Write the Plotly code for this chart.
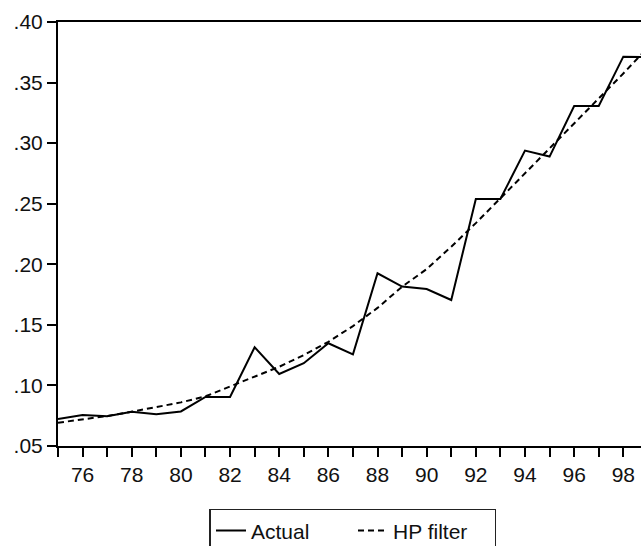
import plotly.graph_objects as go

years = list(range(1975, 2000))
actual = [0.0723, 0.0756, 0.0745, 0.0783, 0.0762, 0.0785, 0.0905, 0.0905, 0.1315, 0.1094,
          0.1183, 0.1348, 0.1257, 0.1926, 0.1816, 0.1796, 0.1705, 0.2539, 0.2539, 0.2938,
          0.2889, 0.3307, 0.3307, 0.3714, 0.3710]
hp_filter = [0.0692, 0.0717, 0.0748, 0.0783, 0.0820, 0.0860, 0.0910, 0.0990, 0.1070, 0.1154,
             0.1250, 0.1360, 0.1490, 0.1640, 0.1815, 0.1960, 0.2145, 0.2340, 0.2545, 0.2750,
             0.2960, 0.3160, 0.3370, 0.3575, 0.3790]

x_tickvals = list(range(1975, 1999))
x_ticktext = [str(y % 100) if y % 2 == 0 else "" for y in x_tickvals]
y_tickvals = [0.05, 0.10, 0.15, 0.20, 0.25, 0.30, 0.35, 0.40]
y_ticktext = [".05", ".10", ".15", ".20", ".25", ".30", ".35", ".40"]

fig = go.Figure()
fig.add_trace(go.Scatter(x=years, y=actual, mode="lines", name="Actual",
                         line=dict(color="black", width=2)))
fig.add_trace(go.Scatter(x=years, y=hp_filter, mode="lines", name="HP filter",
                         line=dict(color="black", width=2, dash="6px,4px")))

font = "Liberation Sans, Arial, sans-serif"
tf = dict(family=font, size=21, color="#111111")
fig.update_layout(
    width=641, height=546,
    margin=dict(l=58, r=0, t=22, b=100),
    paper_bgcolor="white", plot_bgcolor="white",
    font=tf,
    showlegend=True,
    legend=dict(orientation="h", x=0.506, xanchor="center",
                yref="container", y=0.068, yanchor="top",
                bordercolor="#222222", borderwidth=1.5, bgcolor="white",
                font=tf, entrywidth=97, entrywidthmode="pixels",
                tracegroupgap=0),
    xaxis=dict(range=[1975, 1998.72], tickvals=x_tickvals, ticktext=x_ticktext,
               tickfont=tf,
               showgrid=False, zeroline=False, showline=True, linecolor="black",
               linewidth=2, mirror=True, ticks="outside", ticklen=9, tickwidth=2,
               tickcolor="black"),
    yaxis=dict(range=[0.05, 0.40], tickvals=y_tickvals, ticktext=y_ticktext,
               tickfont=tf,
               showgrid=False, zeroline=False, showline=True, linecolor="black",
               linewidth=2, mirror=False, ticks="outside", ticklen=9, tickwidth=2,
               tickcolor="black"),
)

fig.write_html("out.html")
